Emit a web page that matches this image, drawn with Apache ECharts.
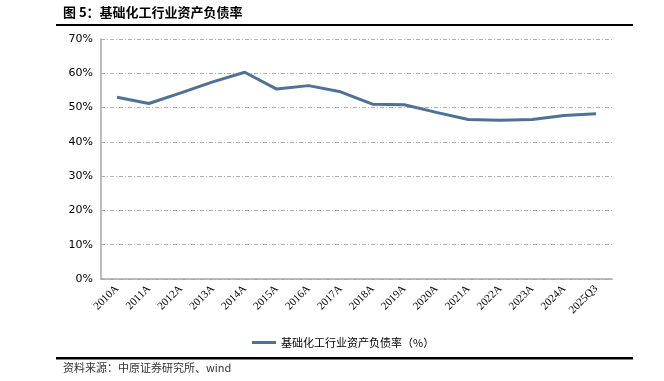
<!DOCTYPE html>
<html><head><meta charset="utf-8">
<script src="https://cdn.jsdelivr.net/npm/echarts@6/dist/echarts.min.js"></script>
<style>html,body{margin:0;padding:0;background:#fff}#c{width:664px;height:381px}</style>
</head><body><div id="c"></div>
<script>
var categories = ['2010A','2011A','2012A','2013A','2014A','2015A','2016A','2017A','2018A','2019A','2020A','2021A','2022A','2023A','2024A','2025Q3'];
var debtRatio = [53.0, 51.2, 54.3, 57.5, 60.3, 55.4, 56.4, 54.6, 51.0, 50.8, 48.6, 46.5, 46.3, 46.5, 47.7, 48.2];
var seriesName = '基础化工行业资产负债率（%）';
var titleText = '图 5：基础化工行业资产负债率';
var sourceText = '资料来源：中原证券研究所、wind';

var chart = echarts.init(document.getElementById('c'), null, {renderer:'canvas'});
chart.setOption({
  animation:false,
  grid:{left:101, right:52, top:39, bottom:102},
  legend:{
    data:[seriesName], left:247, top:332, itemWidth:24, itemHeight:3, itemGap:4,
    icon:'rect',
    textStyle:{fontFamily:'Noto Sans CJK SC', fontSize:11, color:'#000'}
  },
  xAxis:{
    type:'category', data:categories, boundaryGap:true,
    axisLine:{lineStyle:{color:'#a6a6a6', width:1.5}},
    axisTick:{show:false},
    axisLabel:{rotate:45, interval:0, fontFamily:'Liberation Serif', fontSize:11, color:'#000', margin:8}
  },
  yAxis:{
    type:'value', min:0, max:70, interval:10,
    axisLine:{show:true, lineStyle:{color:'#a6a6a6', width:1.5}},
    axisTick:{show:false},
    axisLabel:{formatter:'{value}%', fontFamily:'DejaVu Sans', fontSize:11, color:'#000', margin:8},
    splitLine:{lineStyle:{color:'#b0b0b0', type:[4,2,1,2], width:1}}
  },
  series:[{
    name:seriesName, type:'line', data:debtRatio, symbol:'none',
    lineStyle:{color:'#4f7197', width:3}, itemStyle:{color:'#4f7197'}
  }],
  graphic:[
    {type:'text', left:63, top:6, style:{text:titleText, font:'bold 13px "Noto Sans CJK SC"', fill:'#000'}},
    {type:'rect', shape:{x:56, y:24, width:577, height:2}, style:{fill:'#000'}},
    {type:'rect', shape:{x:56, y:357, width:577, height:2.5}, style:{fill:'#000'}},
    {type:'text', left:63, top:362, style:{text:sourceText, font:'11px "Noto Sans CJK SC"', fill:'#333'}}
  ]
});
</script></body></html>
